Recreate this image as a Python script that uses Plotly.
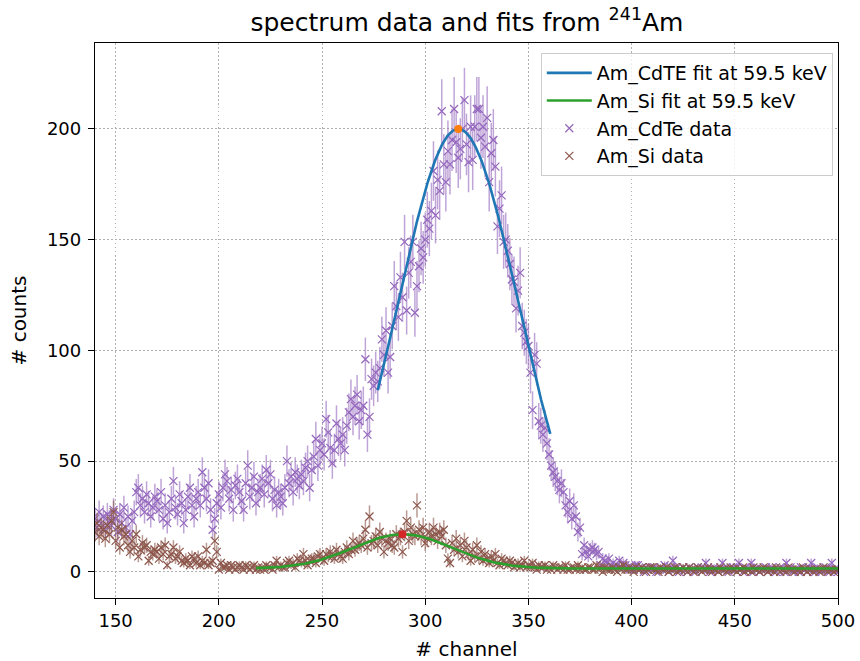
import numpy as np
import plotly.graph_objects as go

# channels 140..500
channels = list(range(140, 501))

cdte_counts = [
    24, 20, 27, 22, 25, 19, 26, 23, 21, 28,
    24, 18, 26, 22, 29, 20, 25, 17, 23, 27,
    36, 38, 30, 33, 27, 35, 31, 25, 29, 34,
    32, 28, 36, 24, 30, 22, 27, 33, 41, 29,
    26, 35, 31, 22, 28, 34, 38, 30, 25, 33,
    36, 30, 45, 38, 33, 40, 28, 19, 24, 31,
    35, 29, 38, 44, 41, 33, 37, 28, 39, 42,
    36, 32, 28, 40, 48, 34, 38, 43, 31, 36,
    38, 42, 35, 46, 40, 44, 33, 37, 30, 36,
    34, 31, 38, 50, 40, 43, 36, 45, 42, 39,
    44, 41, 47, 50, 38, 46, 52, 60, 48, 55,
    58, 53, 69, 63, 56, 49, 55, 67, 60, 58,
    62, 55, 66, 72, 78, 70, 75, 80, 68, 73,
    75, 96, 62, 70, 87, 84, 90, 86, 92, 105,
    98, 109, 90, 97, 111, 129, 120, 115, 133, 124,
    149, 118, 135, 140, 149, 117, 129, 138, 146, 142,
    150, 159, 155, 163, 181, 161, 177, 172, 208, 184,
    176, 190, 184, 195, 209, 194, 187, 191, 200, 213,
    193, 185, 201, 186, 201, 209, 209, 196, 201, 192,
    205, 176, 189, 195, 183, 156, 164, 170, 149, 150,
    145, 139, 132, 131, 119, 127, 135, 111, 108, 104,
    102, 90, 73, 98, 94, 68, 66, 62, 65, 58,
    53, 48, 45, 43, 41, 37, 40, 36, 30, 27,
    32, 24, 30, 25, 18, 20, 8, 12, 9, 7,
    10, 11, 10, 8, 9, 3, 6, 5, 4, 6,
    3, 4, 2, 3, 5, 2, 4, 3, 2, 1,
    2, 1, 3, 3, 1, 2, 0, 2, 1, 2,
    1, 2, 0, 1, 2, 1, 3, 1, 0, 2,
    5, 1, 2, 0, 1, 2, 1, 0, 2, 1,
    1, 0, 2, 1, 2, 1, 4, 1, 0, 1,
    2, 1, 0, 1, 4, 1, 2, 0, 1, 2,
    1, 2, 4, 1, 0, 2, 1, 1, 4, 0,
    1, 2, 0, 1, 1, 2, 0, 1, 2, 1,
    0, 1, 2, 1, 0, 4, 1, 2, 0, 1,
    1, 0, 2, 1, 1, 0, 2, 4, 1, 0,
    2, 1, 0, 1, 2, 1, 0, 4, 1, 1,
    0,
]

si_counts = [
    18, 22, 16, 20, 19, 15, 21, 17, 23, 27,
    14, 20, 11, 19, 16, 17, 12, 9, 14, 11,
    17, 7, 10, 13, 11, 12, 5, 9, 8, 10,
    9, 6, 11, 8, 12, 3, 7, 8, 11, 6,
    7, 9, 5, 4, 6, 5, 3, 7, 6, 4,
    7, 3, 5, 4, 10, 3, 4, 5, 14, 9,
    1, 4, 2, 2, 3, 1, 3, 2, 1, 2,
    3, 2, 1, 3, 2, 1, 2, 3, 1, 2,
    1, 2, 1, 3, 2, 2, 1, 3, 5, 2,
    3, 2, 2, 4, 5, 3, 4, 2, 6, 5,
    4, 8, 5, 3, 5, 6, 6, 4, 7, 8,
    6, 5, 8, 7, 9, 7, 6, 10, 8, 7,
    6, 9, 11, 8, 10, 14, 10, 12, 13, 12,
    15, 19, 11, 25, 13, 14, 16, 12, 18, 15,
    9, 14, 13, 15, 12, 11, 17, 15, 16, 9,
    18, 23, 14, 20, 17, 16, 30, 19, 16, 20,
    13, 15, 18, 16, 20, 17, 14, 18, 16, 19,
    12, 6, 4, 13, 10, 15, 9, 12, 7, 14,
    11, 8, 5, 10, 7, 12, 6, 9, 5, 8,
    6, 4, 7, 5, 8, 4, 3, 6, 5, 4,
    3, 5, 4, 2, 3, 4, 2, 3, 5, 2,
    3, 2, 4, 2, 1, 3, 2, 2, 3, 1,
    2, 1, 3, 2, 1, 2, 2, 1, 3, 1,
    1, 2, 2, 1, 3, 1, 2, 1, 1, 2,
    2, 1, 1, 3, 1, 2, 0, 2, 1, 1,
    1, 2, 1, 0, 2, 1, 3, 1, 1, 2,
    1, 0, 2, 1, 1, 2, 1, 0, 1, 2,
    2, 1, 1, 0, 2, 1, 1, 2, 0, 1,
    1, 2, 0, 1, 1, 2, 1, 0, 2, 1,
    0, 1, 2, 1, 0, 1, 1, 2, 1, 0,
    1, 1, 0, 2, 1, 1, 0, 1, 2, 1,
    1, 0, 1, 1, 2, 0, 1, 1, 0, 2,
    1, 1, 0, 1, 2, 1, 0, 1, 1, 0,
    2, 1, 0, 1, 1, 0, 2, 1, 1, 0,
    1, 1, 0, 2, 1, 0, 1, 1, 0, 1,
    1, 0, 1, 2, 1, 0, 1, 1, 0, 1,
    1,
]

# Gaussian fit parameters (amplitude, mean, sigma, offset, fit range)
cdte_fit = dict(amp=200.0, mu=316.0, sigma=29.2, offset=0.0, xmin=277.0, xmax=360.6)
si_fit = dict(amp=15.5, mu=289.0, sigma=24.0, offset=1.5, xmin=218.0, xmax=500.0)

x_ticks = [150, 200, 250, 300, 350, 400, 450, 500]
y_ticks = [0, 50, 100, 150, 200]

C_BLUE, C_GREEN, C_PURPLE, C_BROWN = "#1f77b4", "#2ca02c", "#9467bd", "#8c564b"
C_ORANGE, C_RED = "#ff7f0e", "#d62728"


def gauss_curve(p):
    xs = np.linspace(p["xmin"], p["xmax"], 300)
    ys = p["amp"] * np.exp(-(xs - p["mu"]) ** 2 / (2 * p["sigma"] ** 2)) + p["offset"]
    return xs, ys


fig = go.Figure()

for name, counts, col, rgba, rank in [
    ("Am_CdTe data", cdte_counts, C_PURPLE, "rgba(148,103,189,0.6)", 3),
    ("Am_Si data", si_counts, C_BROWN, "rgba(140,86,75,0.6)", 4),
]:
    fig.add_trace(go.Scatter(
        x=channels, y=counts, mode="markers", name=name, legendrank=rank,
        marker=dict(symbol="x-thin", size=8, color=col, line=dict(width=1.2, color=col)),
        error_y=dict(type="data", array=np.sqrt(counts), color=rgba, thickness=1.5, width=0),
    ))

for name, p, col, rank in [
    ("Am_CdTE fit at 59.5 keV", cdte_fit, C_BLUE, 1),
    ("Am_Si fit at 59.5 keV", si_fit, C_GREEN, 2),
]:
    xs, ys = gauss_curve(p)
    fig.add_trace(go.Scatter(x=xs, y=ys, mode="lines", name=name, legendrank=rank,
                             line=dict(color=col, width=2.6)))

for p, col in [(cdte_fit, C_ORANGE), (si_fit, C_RED)]:
    fig.add_trace(go.Scatter(x=[p["mu"]], y=[p["amp"] + p["offset"]], mode="markers",
                             showlegend=False, marker=dict(color=col, size=8)))

axis_common = dict(
    showgrid=True, gridcolor="#b0b0b0", griddash="1.5px,2.5px", gridwidth=1,
    showline=True, linecolor="black", linewidth=1.3, mirror=True,
    ticks="outside", ticklen=6, tickwidth=1.2, tickcolor="black",
    zeroline=False, tickfont=dict(size=18, color="black"), automargin=False,
)

fig.update_layout(
    width=860, height=661,
    margin=dict(l=95, r=22, t=43, b=63),
    plot_bgcolor="white", paper_bgcolor="white",
    font=dict(family="DejaVu Sans", color="black"),
    title=dict(text="spectrum data and fits from <sup>241</sup>Am", x=0.543, xanchor="center",
               y=0.967, yanchor="middle", yref="container", font=dict(size=25)),
    xaxis=dict(range=[140, 500], tickvals=x_ticks, ticklabelstandoff=0,
               title=dict(text="# channel", font=dict(size=20), standoff=16), **axis_common),
    yaxis=dict(range=[-11.8, 238.8], tickvals=y_ticks, ticklabelstandoff=3,
               title=dict(text="# counts", font=dict(size=20), standoff=14), **axis_common),
    legend=dict(x=0.993, y=0.982, xanchor="right", yanchor="top",
                bgcolor="rgba(255,255,255,0.8)", bordercolor="#cccccc", borderwidth=1,
                font=dict(size=19), itemwidth=45, tracegroupgap=0),
    showlegend=True,
)

fig.write_html("out.html")
